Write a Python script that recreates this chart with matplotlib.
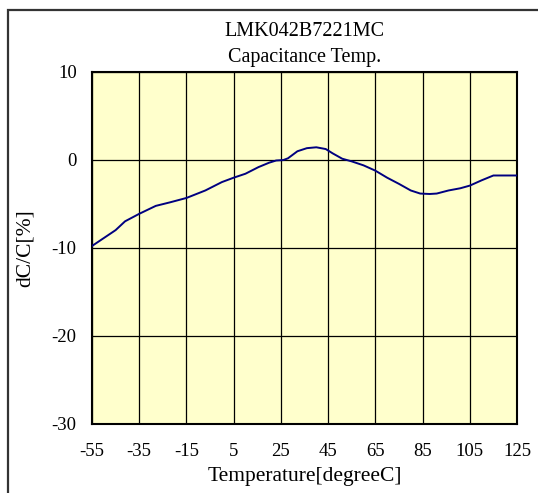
import matplotlib
matplotlib.use("Agg")
import matplotlib.pyplot as plt
from matplotlib.patches import Rectangle

temperature = [-55, -50, -45, -41, -35, -28, -22, -15, -7, 0, 5, 10, 15.5, 20, 23, 26, 28, 32,
               36, 40, 44, 47, 51, 55, 60, 65, 70, 75, 80, 84, 88, 91, 96, 101, 105, 110, 115, 125]
dcc = [-9.8, -8.9, -8.0, -7.0, -6.15, -5.25, -4.85, -4.35, -3.5, -2.55, -2.05, -1.6, -0.85, -0.35,
       -0.1, -0.05, 0.15, 0.95, 1.3, 1.4, 1.2, 0.7, 0.1, -0.2, -0.65, -1.25, -2.05, -2.75, -3.5,
       -3.85, -3.9, -3.85, -3.5, -3.25, -2.95, -2.35, -1.8, -1.8]
xticks = [-55, -35, -15, 5, 25, 45, 65, 85, 105, 125]
yticks = [10, 0, -10, -20, -30]

plt.rcParams['font.family'] = ['Liberation Serif', 'DejaVu Serif']
plt.rcParams['axes.unicode_minus'] = False

W, H = 538, 493
fig = plt.figure(figsize=(W / 100, H / 100), dpi=100)
fig.patch.set_facecolor('white')

# outer frame
fig.patches.append(Rectangle((7.5 / W, -0.1), 1.2, 1.1 - 10.5 / H, transform=fig.transFigure,
                             fill=False, edgecolor='#333333', linewidth=1.6))

left, right, top, bottom = 92, 517, 71.5, 424
ax = fig.add_axes([left / W, 1 - bottom / H, (right - left) / W, (bottom - top) / H])
ax.set_facecolor('#FFFFCC')
ax.plot(temperature, dcc, color='#000080', linewidth=1.4, zorder=3)
ax.set_xlim(-55, 125)
ax.set_ylim(-30, 10)
ax.set_xticks(xticks)
ax.set_yticks(yticks)
ax.grid(True, color='black', linewidth=0.9)
ax.tick_params(length=0, labelsize=13.5, colors='black')
ax.tick_params(axis='x', pad=14)
ax.tick_params(axis='y', pad=11)
for s in ax.spines.values():
    s.set_linewidth(1.5)
    s.set_color('black')
ax.set_xlabel('Temperature[degreeC]', fontsize=15.5, labelpad=5)
ax.set_ylabel('dC/C[%]', fontsize=15.5, labelpad=12)

cx = (left + right) / 2 / W
fig.text(cx, 1 - 36 / H, 'LMK042B7221MC', ha='center', va='baseline', fontsize=14.5)
fig.text(cx, 1 - 62 / H, 'Capacitance Temp.', ha='center', va='baseline', fontsize=14.5)

fig.savefig('out.png', dpi=100, facecolor='white')
